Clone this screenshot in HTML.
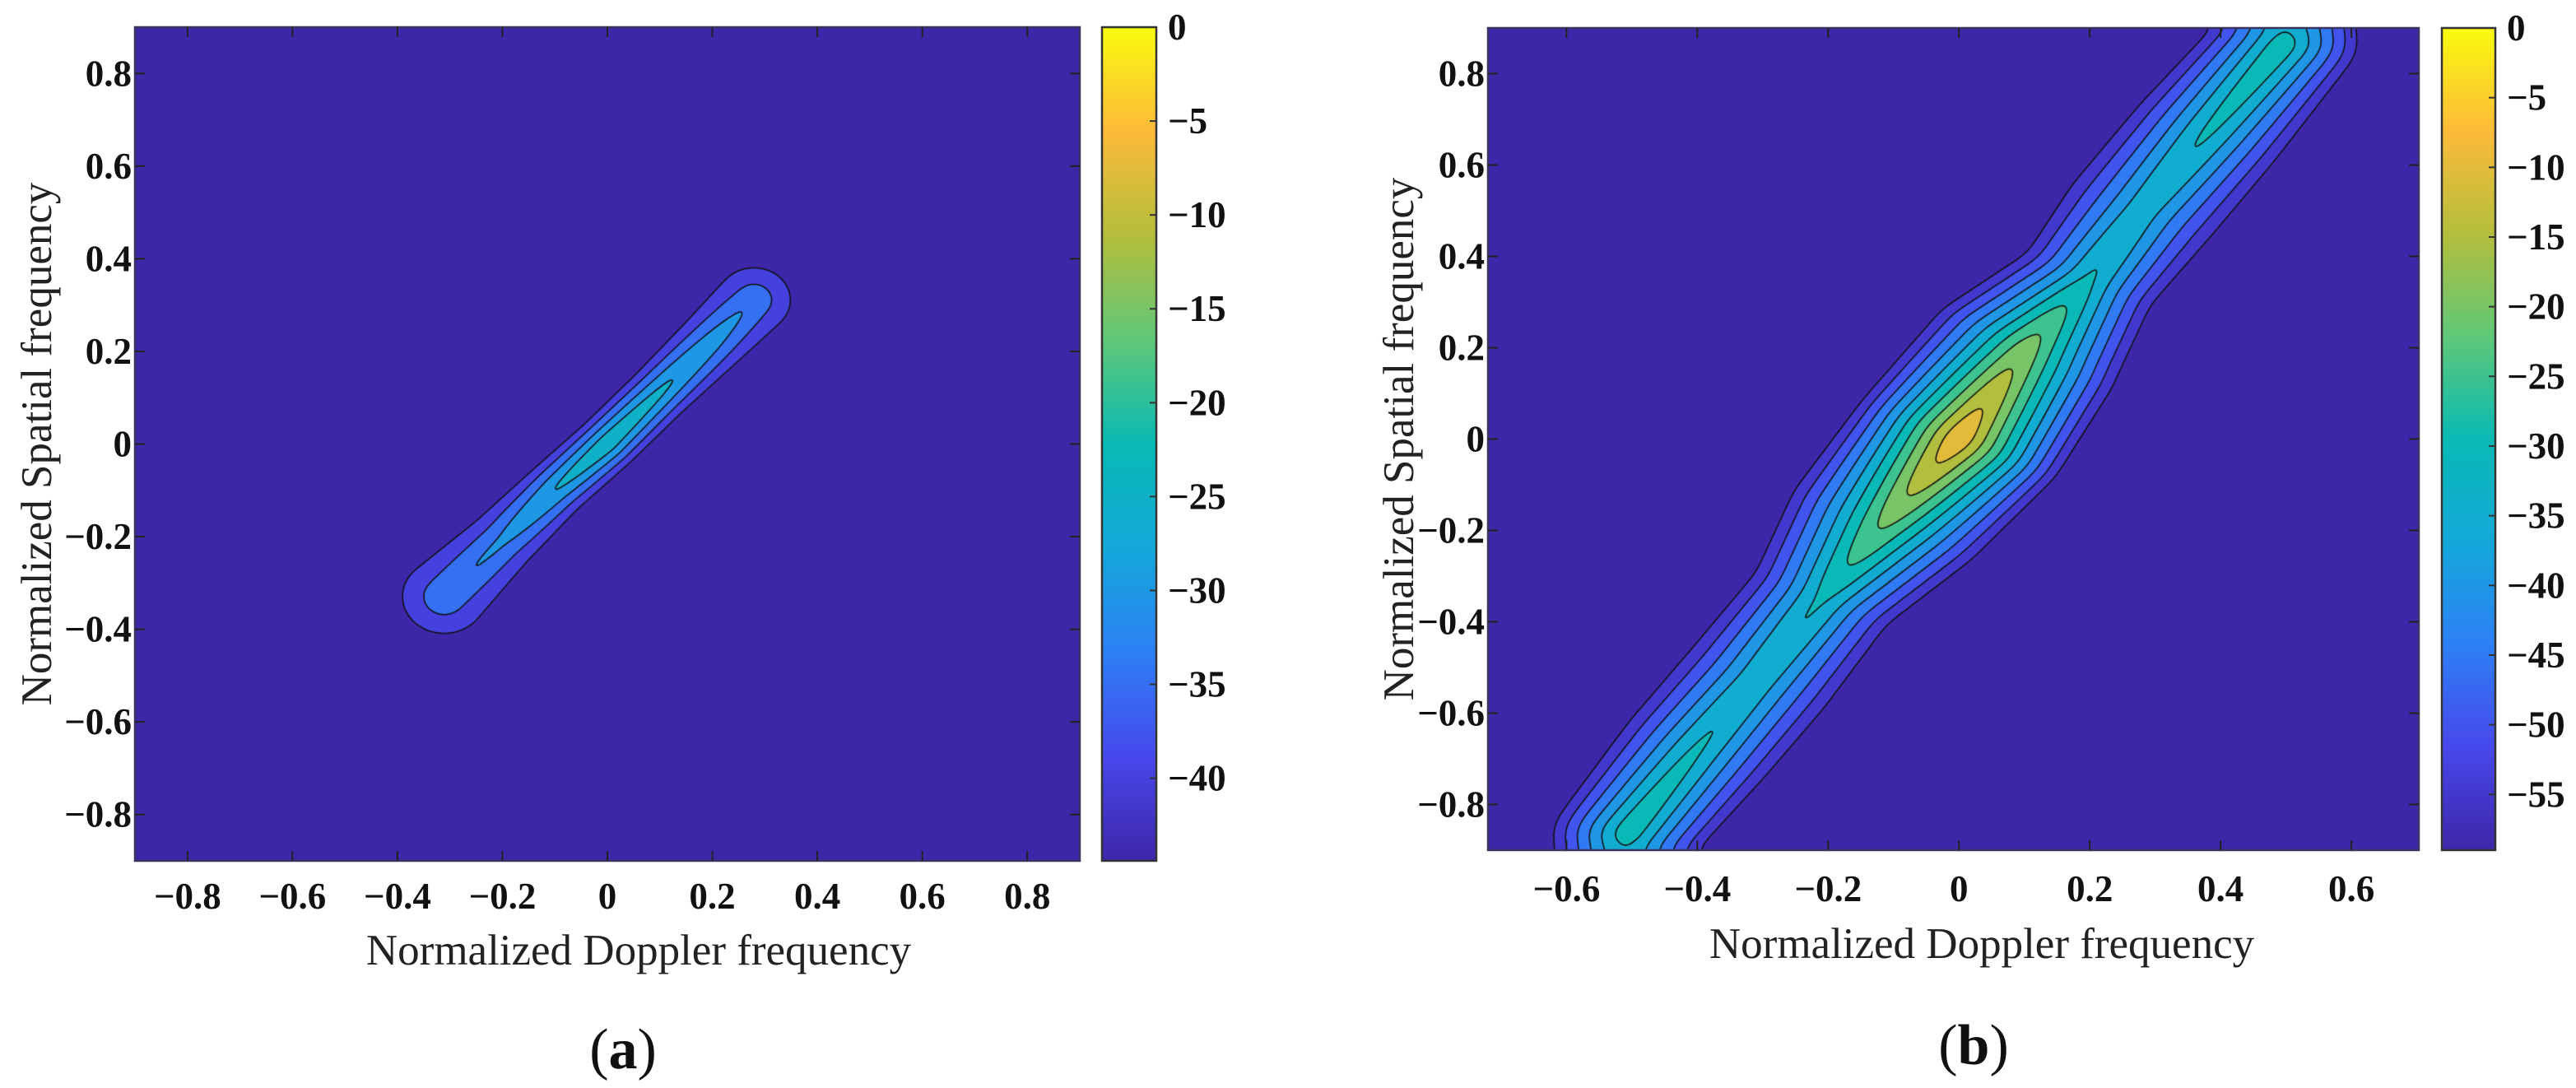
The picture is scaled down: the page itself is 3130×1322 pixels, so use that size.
<!DOCTYPE html>
<html><head><meta charset="utf-8"><style>
html,body{margin:0;padding:0;background:#fff;}
#root{position:relative;width:3130px;height:1322px;overflow:hidden;background:#fff;font-family:"Liberation Serif",serif;}
canvas{position:absolute;}
svg{position:absolute;left:0;top:0;}
</style></head><body>
<div id="root">
<canvas id="cva"></canvas>
<canvas id="cvb"></canvas>
<canvas id="cba"></canvas>
<canvas id="cbb"></canvas>
<svg id="ov" width="3130" height="1322"></svg>
</div>
<script>
// ---- data: panel (a) ridge ----
const aNodeX = [-0.31, -0.2, -0.1, 0, 0.1, 0.2, 0.28];
const aNodeY = [-0.33, -0.21, -0.1, 0, 0.11, 0.22, 0.31];
const aNodePeak = [-30, -28, -23, -19, -22, -26, -30];
const aNodeHW = [0.08, 0.065, 0.06, 0.06, 0.06, 0.065, 0.07];
const aLevels = [-40, -35, -30, -25, -20];
const aXTicks = [-0.8, -0.6, -0.4, -0.2, 0, 0.2, 0.4, 0.6, 0.8];
const aYTicks = [-0.8, -0.6, -0.4, -0.2, 0, 0.2, 0.4, 0.6, 0.8];
const aCbTicks = [0, -5, -10, -15, -20, -25, -30, -35, -40];
// ---- data: panel (b) ridge ----
const bNodeX = [-0.51, -0.40, -0.31, -0.21, -0.117, 0, 0.105, 0.2, 0.28, 0.38, 0.5];
const bNodeY = [-0.87, -0.68, -0.53, -0.35, -0.19, 0, 0.2, 0.35, 0.5, 0.67, 0.87];
const bNodePeak = [-24, -27, -29, -27, -17, -3, -15, -27, -30, -27, -24];
const bNodeHW = [0.11, 0.12, 0.12, 0.115, 0.155, 0.17, 0.155, 0.11, 0.12, 0.12, 0.11];
const bLevels = [-55, -50, -45, -40, -35, -30, -25, -20, -15, -10];
const bXTicks = [-0.6, -0.4, -0.2, 0, 0.2, 0.4, 0.6];
const bYTicks = [-0.8, -0.6, -0.4, -0.2, 0, 0.2, 0.4, 0.6, 0.8];
const bCbTicks = [0, -5, -10, -15, -20, -25, -30, -35, -40, -45, -50, -55];

const panels = [
 {id:'a', cv:'cva', cb:'cba', L:164, T:33, R:1312, B:1046, xmin:-0.9, xmax:0.9, ymin:-0.9, ymax:0.9,
  nx:aNodeX, ny:aNodeY, np:aNodePeak, nh:aNodeHW, levels:aLevels, outer:-40, cmin:-44.4, cmax:0, blur:6,
  xt:aXTicks, yt:aYTicks, ct:aCbTicks, cbL:1339, cbR:1405, xtY:1104, xTitleX:776, xTitleY:1155, yTitleX:45, capX:757, capY:1298, cap:'a'},
 {id:'b', cv:'cvb', cb:'cbb', L:1808, T:34, R:2939, B:1033, xmin:-0.72, xmax:0.703, ymin:-0.9, ymax:0.9,
  nx:bNodeX, ny:bNodeY, np:bNodePeak, nh:bNodeHW, levels:bLevels, outer:-55, cmin:-59, cmax:0, blur:11,
  xt:bXTicks, yt:bYTicks, ct:bCbTicks, cbL:2967, cbR:3032, xtY:1095, xTitleX:2408, xTitleY:1147, yTitleX:1700, capX:2398, capY:1293, cap:'b'}
];

const cmapStops = [
 [0.0,[62,38,168]],[0.125,[71,72,236]],[0.25,[45,128,245]],[0.375,[20,168,218]],
 [0.5,[8,186,180]],[0.625,[95,200,120]],[0.75,[180,190,60]],[0.875,[252,186,58]],[1.0,[249,251,14]]];
function cmap(t){
  t=Math.max(0,Math.min(1,t));
  for(let i=1;i<cmapStops.length;i++){
    if(t<=cmapStops[i][0]){
      const a=cmapStops[i-1],b=cmapStops[i],f=(t-a[0])/(b[0]-a[0]);
      return [0,1,2].map(k=>Math.round(a[1][k]+(b[1][k]-a[1][k])*f));
    }
  }
  return cmapStops[cmapStops.length-1][1];
}
function fieldAt(p,x,y){
  let best=1e9,bp=0,bh=0;
  for(let i=0;i<p.nx.length-1;i++){
    const x0=p.nx[i],y0=p.ny[i],dx=p.nx[i+1]-x0,dy=p.ny[i+1]-y0;
    let t=((x-x0)*dx+(y-y0)*dy)/(dx*dx+dy*dy);
    t=Math.max(0,Math.min(1,t));
    const ex=x-(x0+t*dx),ey=y-(y0+t*dy),d=Math.sqrt(ex*ex+ey*ey);
    if(d<best){best=d;bp=p.np[i]+(p.np[i+1]-p.np[i])*t;bh=p.nh[i]+(p.nh[i+1]-p.nh[i])*t;}
  }
  const v=bp-(bp-p.outer)*best/bh;
  return Math.max(p.cmin-6,v);
}
function boxBlur(F,W,H,r){
  const tmp=new Float32Array(W*H);
  for(let j=0;j<H;j++){
    let s=0,row=j*W;
    for(let i=-r;i<=r;i++) s+=F[row+Math.max(0,Math.min(W-1,i))];
    for(let i=0;i<W;i++){
      tmp[row+i]=s/(2*r+1);
      s+=F[row+Math.min(W-1,i+r+1)]-F[row+Math.max(0,i-r)];
    }
  }
  for(let i=0;i<W;i++){
    let s=0;
    for(let j=-r;j<=r;j++) s+=tmp[Math.max(0,Math.min(H-1,j))*W+i];
    for(let j=0;j<H;j++){
      F[j*W+i]=s/(2*r+1);
      s+=tmp[Math.min(H-1,j+r+1)*W+i]-tmp[Math.max(0,j-r)*W+i];
    }
  }
}
const NS='http://www.w3.org/2000/svg';
const ov=document.getElementById('ov');
function sv(tag,attrs,parent){const e=document.createElementNS(NS,tag);for(const k in attrs)e.setAttribute(k,attrs[k]);(parent||ov).appendChild(e);return e;}
function fmt(v){const s=(Math.abs(v)<1e-9)?'0':String(Math.abs(v));return (v<-1e-9?'\u2212':'')+s;}

panels.forEach(p=>{
  const W=p.R-p.L,H=p.B-p.T;
  const cv=document.getElementById(p.cv);
  cv.width=W;cv.height=H;cv.style.left=p.L+'px';cv.style.top=p.T+'px';
  const ctx=cv.getContext('2d');
  const img=ctx.createImageData(W,H);
  const F=new Float32Array(W*H);
  const sx=v=>p.L+(v-p.xmin)/(p.xmax-p.xmin)*W;
  const sy=v=>p.B-(v-p.ymin)/(p.ymax-p.ymin)*H;
  for(let j=0;j<H;j++){
    const y=p.ymax-(j+0.5)/H*(p.ymax-p.ymin);
    for(let i=0;i<W;i++){
      const x=p.xmin+(i+0.5)/W*(p.xmax-p.xmin);
      F[j*W+i]=fieldAt(p,x,y);
    }
  }
  boxBlur(F,W,H,p.blur);boxBlur(F,W,H,p.blur);
  const bandCols=[cmap(0)].concat(p.levels.map(l=>cmap((l-p.cmin)/(p.cmax-p.cmin))));
  for(let k=0;k<W*H;k++){
    const v=F[k];let n=0;
    for(let q=0;q<p.levels.length;q++) if(v>=p.levels[q]) n=q+1;
    const c=bandCols[n];
    img.data[k*4]=c[0];img.data[k*4+1]=c[1];img.data[k*4+2]=c[2];img.data[k*4+3]=255;
  }
  ctx.putImageData(img,0,0);
  ctx.strokeStyle='#111';ctx.lineWidth=1.6;ctx.beginPath();
  const st=2;
  const g=(i,j)=>F[Math.min(H-1,j)*W+Math.min(W-1,i)];
  p.levels.forEach(L=>{
    for(let j=0;j<H-st;j+=st){
      for(let i=0;i<W-st;i+=st){
        const a=g(i,j),b=g(i+st,j),c=g(i+st,j+st),d=g(i,j+st);
        const pts=[];
        if((a<L)!==(b<L)) pts.push([i+st*(L-a)/(b-a),j]);
        if((b<L)!==(c<L)) pts.push([i+st,j+st*(L-b)/(c-b)]);
        if((c<L)!==(d<L)) pts.push([i+st*(1-(L-c)/(d-c)),j+st]);
        if((d<L)!==(a<L)) pts.push([i,j+st*(1-(L-d)/(a-d))]);
        if(pts.length>=2){ctx.moveTo(pts[0][0],pts[0][1]);ctx.lineTo(pts[1][0],pts[1][1]);}
        if(pts.length===4){ctx.moveTo(pts[2][0],pts[2][1]);ctx.lineTo(pts[3][0],pts[3][1]);}
      }
    }
  });
  ctx.stroke();
  const cb=document.getElementById(p.cb);
  const cw=p.cbR-p.cbL;cb.width=cw;cb.height=H;cb.style.left=p.cbL+'px';cb.style.top=p.T+'px';
  const cc=cb.getContext('2d');
  for(let j=0;j<H;j++){const c=cmap(1-j/H);cc.fillStyle='rgb('+c+')';cc.fillRect(0,j,cw,1);}
  const g1=sv('g',{});
  
  
  sv('rect',{x:p.L,y:p.T,width:W,height:H,fill:'none',stroke:'#3a3560','stroke-width':2.5},g1);
  sv('rect',{x:p.cbL,y:p.T,width:cw,height:H,fill:'none',stroke:'#333','stroke-width':2.5},g1);
  p.xt.forEach(v=>{
    const x=sx(v);
    sv('line',{x1:x,y1:p.B,x2:x,y2:p.B-12,stroke:'#222','stroke-width':2},g1);
    sv('line',{x1:x,y1:p.T,x2:x,y2:p.T+12,stroke:'#222','stroke-width':2},g1);
    const t=sv('text',{x:x,y:p.xtY,'text-anchor':'middle','font-size':45,'font-weight':'bold',fill:'#111'},g1);
    t.textContent=fmt(v);
    
    
  });
  p.yt.forEach(v=>{
    const y=sy(v);
    sv('line',{x1:p.L,y1:y,x2:p.L+12,y2:y,stroke:'#222','stroke-width':2},g1);
    sv('line',{x1:p.R,y1:y,x2:p.R-12,y2:y,stroke:'#222','stroke-width':2},g1);
    const t=sv('text',{x:p.L-4,y:y+15,'text-anchor':'end','font-size':45,'font-weight':'bold',fill:'#111'},g1);
    t.textContent=fmt(v);
    
    
  });
  p.ct.forEach(v=>{
    const y=p.T+(p.cmax-v)/(p.cmax-p.cmin)*H;
    sv('line',{x1:p.cbR,y1:y,x2:p.cbR-8,y2:y,stroke:'#333','stroke-width':2},g1);
    const t=sv('text',{x:p.cbR+14,y:y+15,'font-size':45,'font-weight':'bold',fill:'#111'},g1);
    t.textContent=fmt(v);
    
    
  });
  const xt=sv('text',{x:p.xTitleX,y:p.xTitleY+17,'text-anchor':'middle','font-size':53,fill:'#222'},g1);
  xt.textContent='Normalized Doppler frequency';
  
  
  const cy=(p.T+p.B)/2;
  const yt=sv('text',{x:p.yTitleX,y:cy,'text-anchor':'middle','font-size':53,fill:'#222',transform:'rotate(-90 '+p.yTitleX+' '+cy+') translate(0 17)'},g1);
  yt.textContent='Normalized Spatial frequency';
  
  
  const cap=sv('text',{x:p.capX,y:p.capY,'text-anchor':'middle','font-size':70,fill:'#111'},g1);
  cap.innerHTML='(<tspan font-weight="bold">'+p.cap+'</tspan>)';
  
  
});
</script>
</body></html>
